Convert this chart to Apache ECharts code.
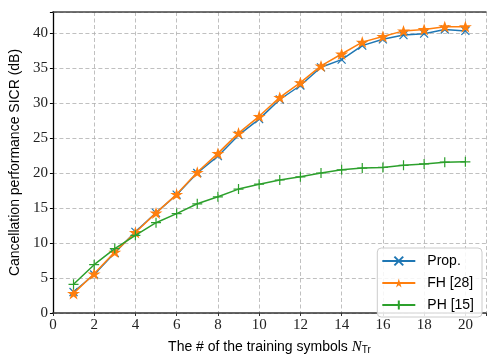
<!DOCTYPE html>
<html>
<head>
<meta charset="utf-8">
<script src="https://cdn.jsdelivr.net/npm/echarts@6/dist/echarts.min.js"></script>
<style>html,body{margin:0;padding:0;background:#fff;}#c{width:489px;height:360px;}</style>
</head>
<body>
<div id="c"></div>
<script>
var xs = [1,2,3,4,5,6,7,8,9,10,11,12,13,14,15,16,17,18,19,20];
var prop = [3.0,5.5,8.6,11.6,14.3,16.9,20.0,22.4,25.4,27.7,30.5,32.5,35.1,36.2,38.2,39.1,39.7,39.9,40.5,40.3];
var fh = [2.8,5.6,8.7,11.5,14.3,16.95,20.1,22.8,25.7,28.1,30.8,32.9,35.3,37.0,38.7,39.5,40.3,40.5,40.9,40.9];
var ph = [4.1,6.9,9.2,11.1,12.9,14.2,15.6,16.6,17.7,18.4,19.0,19.45,20.0,20.45,20.7,20.8,21.1,21.3,21.55,21.6];
var seriesNames = ['Prop.', 'FH [28]', 'PH [15]'];

function pairs(ys){ return xs.map(function(x,i){ return [x, ys[i]]; }); }

var STAR = 'path://M100,0 L122.45,69.1 L195.1,69.1 L136.3,111.8 L158.8,180.9 L100,138.2 L41.2,180.9 L63.7,111.8 L4.9,69.1 L77.55,69.1 Z';
var XSYM = 'path://M0,0 L10,10 M10,0 L0,10';
var PLUS = 'path://M5,0 L5,10 M0,5 L10,5';

var serifFont = 'Liberation Serif';
var sansFont = 'Liberation Sans';
var gridLine = {show:true, lineStyle:{color:'#b0b0b0', width:0.8, type:[4,2.5]}};

var chart = echarts.init(document.getElementById('c'), null, {renderer:'canvas'});
chart.setOption({
  animation:false,
  backgroundColor:'#fff',
  grid:{left:49, top:12, width:442, height:313, containLabel:false},
  legend:{
    orient:'vertical', right:7, bottom:43,
    data: seriesNames,
    itemWidth:33, itemHeight:11, itemGap:8,
    padding:[6,8,5,4],
    backgroundColor:'rgba(255,255,255,0.85)',
    borderColor:'#cccccc', borderWidth:1, borderRadius:4,
    textStyle:{fontFamily:sansFont, fontSize:14, color:'#000', padding:[0,0,0,7]}
  },
  xAxis:[{
    type:'value', min:0, max:21, interval:2, position:'bottom',
    name:'The # of the training symbols {i|N}{s|Tr}',
    nameLocation:'middle', nameGap:26,
    nameTextStyle:{fontFamily:sansFont, fontSize:14, color:'#000',
      rich:{
        i:{fontFamily:serifFont, fontStyle:'italic', fontSize:15, color:'#000'},
        s:{fontFamily:sansFont, fontSize:10, color:'#000', padding:[6,0,0,0]}
      }},
    axisLine:{show:true, onZero:false, lineStyle:{color:'#333', width:1.7}},
    axisTick:{show:true, inside:false, length:3, lineStyle:{color:'#333', width:1}},
    axisLabel:{show:true, margin:5, fontFamily:serifFont, fontSize:15, color:'#222',
      formatter:function(v){ return (v % 2 === 0 && v <= 20) ? String(v) : ''; }},
    splitLine:gridLine
  },{
    type:'value', min:0, max:21, interval:2, position:'top',
    axisLine:{show:true, onZero:false, lineStyle:{color:'#444', width:1.5}},
    axisTick:{show:false}, axisLabel:{show:false}, splitLine:{show:false}
  }],
  yAxis:[{
    type:'value', min:0, max:43, interval:5,
    name:'Cancellation performance SICR (dB)',
    nameLocation:'middle', nameGap:24, nameRotate:90,
    nameTextStyle:{fontFamily:sansFont, fontSize:14, color:'#000'},
    axisLine:{show:true, onZero:false, lineStyle:{color:'#000', width:1.3}},
    axisTick:{show:true, inside:false, length:3, lineStyle:{color:'#000', width:1}},
    axisLabel:{show:true, margin:5, fontFamily:serifFont, fontSize:15, color:'#222',
      formatter:function(v){ return (v % 5 === 0) ? String(v) : ''; }},
    splitLine:gridLine
  }],
  series:[
    {name:seriesNames[0], type:'line', data:pairs(prop), symbol:XSYM, symbolSize:8,
      lineStyle:{color:'#1f77b4', width:1.5}, itemStyle:{color:'#1f77b4', borderColor:'#1f77b4', borderWidth:1.2},
      z:2},
    {name:seriesNames[1], type:'line', data:pairs(fh), symbol:STAR, symbolSize:[13,12],
      lineStyle:{color:'#ff7f0e', width:1.5}, itemStyle:{color:'#ff7f0e', borderColor:'#ff7f0e', borderWidth:0},
      z:3},
    {name:seriesNames[2], type:'line', data:pairs(ph), symbol:PLUS, symbolSize:10,
      lineStyle:{color:'#2ca02c', width:1.5}, itemStyle:{color:'#2ca02c', borderColor:'#2ca02c', borderWidth:1.2},
      z:4}
  ]
});
</script>
</body>
</html>
